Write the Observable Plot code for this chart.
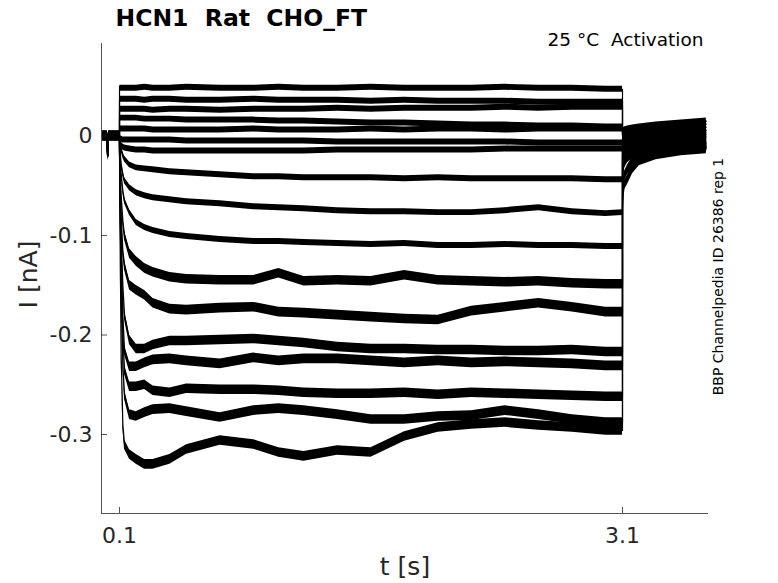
<!DOCTYPE html>
<html>
<head>
<meta charset="utf-8">
<script src="https://cdn.jsdelivr.net/npm/d3@7"></script>
<script src="https://cdn.jsdelivr.net/npm/@observablehq/plot@0.6"></script>
<style>
  html, body { margin: 0; padding: 0; background: #fff; }
</style>
</head>
<body>
<div id="chart"></div>
<script>
// ---- text ----
const titleText = "HCN1  Rat  CHO_FT";
const subtitleText = "25 °C  Activation";
const sideText = "BBP Channelpedia ID 26386 rep 1";
const xLabel = "t [s]";
const yLabel = "I [nA]";

// ---- axes ----
const xTicks = [0.1, 3.1];
const yTicks = [0, -0.1, -0.2, -0.3];
const xDomain = [-0.0074, 3.613];
const yDomain = [-0.3794, 0.093];

// ---- sample times (s) ----
const preT = [0, 0.027, 0.029, 0.032, 0.035, 0.0999];
const stepT = [0.1, 0.105, 0.11, 0.12, 0.13, 0.16, 0.2, 0.25, 0.3, 0.4, 0.5, 0.7, 0.9, 1.05, 1.2, 1.4, 1.6, 1.8, 2.0, 2.2, 2.4, 2.6, 2.8, 3.0, 3.1];
const tailT = [3.1001, 3.102, 3.105, 3.11, 3.13, 3.16, 3.2, 3.3, 3.45, 3.6];

// ---- holding baseline before the step (nA) ----
const preI = [0, 0, -0.02, -0.004, 0, 0];

// ---- currents during the step (nA) ----
const t1Step = [0.047, 0.048, 0.048, 0.048, 0.048, 0.048, 0.048, 0.049, 0.048, 0.048, 0.049, 0.048, 0.048, 0.049, 0.048, 0.048, 0.049, 0.048, 0.048, 0.048, 0.049, 0.048, 0.048, 0.047, 0.047];
const t2Step = [0.036, 0.037, 0.037, 0.037, 0.037, 0.037, 0.037, 0.036, 0.037, 0.037, 0.036, 0.036, 0.037, 0.036, 0.036, 0.036, 0.035, 0.036, 0.035, 0.035, 0.035, 0.034, 0.034, 0.034, 0.034];
const t3Step = [0.026, 0.027, 0.027, 0.027, 0.027, 0.027, 0.027, 0.027, 0.026, 0.027, 0.027, 0.026, 0.027, 0.027, 0.027, 0.028, 0.027, 0.028, 0.028, 0.028, 0.029, 0.028, 0.029, 0.029, 0.029];
const t4Step = [0.018, 0.018, 0.018, 0.018, 0.018, 0.018, 0.018, 0.017, 0.017, 0.017, 0.016, 0.016, 0.016, 0.015, 0.015, 0.014, 0.013, 0.013, 0.012, 0.011, 0.011, 0.010, 0.010, 0.009, 0.009];
const t5Step = [0.007, 0.007, 0.007, 0.007, 0.007, 0.007, 0.007, 0.007, 0.006, 0.006, 0.006, 0.006, 0.007, 0.006, 0.006, 0.006, 0.007, 0.006, 0.007, 0.007, 0.006, 0.007, 0.007, 0.007, 0.007];
const t6Step = [-0.002, -0.003, -0.003, -0.004, -0.004, -0.004, -0.004, -0.004, -0.004, -0.004, -0.005, -0.005, -0.005, -0.005, -0.005, -0.006, -0.006, -0.006, -0.006, -0.006, -0.006, -0.007, -0.007, -0.007, -0.007];
const t7Step = [-0.004, -0.007, -0.009, -0.011, -0.012, -0.013, -0.014, -0.014, -0.015, -0.015, -0.015, -0.015, -0.015, -0.015, -0.015, -0.014, -0.014, -0.014, -0.014, -0.014, -0.013, -0.013, -0.013, -0.013, -0.013];
const m1Step = [-0.002, -0.008, -0.013, -0.019, -0.023, -0.029, -0.032, -0.033, -0.034, -0.036, -0.037, -0.039, -0.041, -0.041, -0.042, -0.042, -0.042, -0.043, -0.042, -0.043, -0.043, -0.043, -0.043, -0.044, -0.044];
const m2Step = [-0.005, -0.018, -0.028, -0.038, -0.045, -0.052, -0.057, -0.060, -0.062, -0.064, -0.066, -0.068, -0.071, -0.072, -0.073, -0.075, -0.076, -0.076, -0.077, -0.077, -0.075, -0.072, -0.076, -0.078, -0.077];
const m3Step = [-0.008, -0.025, -0.038, -0.055, -0.065, -0.077, -0.087, -0.092, -0.095, -0.099, -0.101, -0.104, -0.106, -0.106, -0.107, -0.108, -0.109, -0.108, -0.110, -0.110, -0.109, -0.110, -0.110, -0.111, -0.111];
const aStep = [-0.010, -0.040, -0.060, -0.085, -0.100, -0.118, -0.126, -0.133, -0.137, -0.142, -0.144, -0.145, -0.145, -0.138, -0.146, -0.145, -0.146, -0.140, -0.145, -0.146, -0.147, -0.146, -0.148, -0.149, -0.149];
const bStep = [-0.012, -0.050, -0.080, -0.115, -0.130, -0.150, -0.155, -0.160, -0.168, -0.174, -0.175, -0.173, -0.172, -0.177, -0.178, -0.180, -0.182, -0.184, -0.185, -0.176, -0.172, -0.168, -0.172, -0.177, -0.177];
const cStep = [-0.015, -0.060, -0.100, -0.150, -0.180, -0.205, -0.214, -0.214, -0.210, -0.206, -0.206, -0.205, -0.204, -0.206, -0.208, -0.212, -0.214, -0.214, -0.215, -0.215, -0.216, -0.216, -0.215, -0.217, -0.217];
const dStep = [-0.015, -0.070, -0.120, -0.180, -0.215, -0.232, -0.232, -0.228, -0.225, -0.224, -0.226, -0.229, -0.223, -0.226, -0.224, -0.224, -0.226, -0.228, -0.226, -0.228, -0.227, -0.228, -0.229, -0.231, -0.231];
const eStep = [-0.015, -0.080, -0.140, -0.200, -0.235, -0.252, -0.252, -0.250, -0.256, -0.258, -0.254, -0.255, -0.255, -0.256, -0.258, -0.259, -0.259, -0.258, -0.260, -0.258, -0.259, -0.260, -0.261, -0.262, -0.262];
const fStep = [-0.015, -0.090, -0.160, -0.230, -0.260, -0.280, -0.282, -0.278, -0.275, -0.274, -0.277, -0.283, -0.276, -0.274, -0.276, -0.280, -0.285, -0.285, -0.282, -0.281, -0.276, -0.280, -0.285, -0.288, -0.288];
const gStep = [-0.020, -0.130, -0.220, -0.290, -0.310, -0.320, -0.325, -0.330, -0.330, -0.325, -0.315, -0.306, -0.310, -0.318, -0.322, -0.316, -0.318, -0.302, -0.293, -0.290, -0.288, -0.291, -0.293, -0.296, -0.296];

// ---- tail currents after the step (nA) ----
const t1Tail = [0.003, 0.004, 0.005, 0.006, 0.007, 0.008, 0.009, 0.011, 0.013, 0.015];
const t2Tail = [0.002, 0.003, 0.004, 0.005, 0.006, 0.007, 0.007, 0.009, 0.011, 0.012];
const t3Tail = [0.001, 0.002, 0.003, 0.004, 0.004, 0.005, 0.005, 0.007, 0.008, 0.009];
const t4Tail = [0.000, 0.001, 0.002, 0.002, 0.003, 0.003, 0.004, 0.005, 0.005, 0.006];
const t5Tail = [-0.001, 0.000, 0.001, 0.001, 0.002, 0.002, 0.002, 0.003, 0.003, 0.004];
const t6Tail = [-0.002, -0.001, 0.000, 0.000, 0.000, 0.001, 0.001, 0.001, 0.002, 0.002];
const t7Tail = [-0.004, -0.003, -0.002, -0.002, -0.001, -0.001, 0.000, 0.000, 0.000, 0.000];
const m1Tail = [-0.006, -0.005, -0.005, -0.004, -0.004, -0.003, -0.003, -0.002, -0.002, -0.002];
const m2Tail = [-0.008, -0.007, -0.007, -0.006, -0.005, -0.005, -0.004, -0.004, -0.004, -0.004];
const m3Tail = [-0.010, -0.009, -0.009, -0.008, -0.007, -0.007, -0.006, -0.006, -0.006, -0.006];
const aTail = [-0.012, -0.011, -0.011, -0.010, -0.009, -0.008, -0.008, -0.007, -0.007, -0.007];
const bTail = [-0.014, -0.013, -0.012, -0.012, -0.011, -0.010, -0.009, -0.008, -0.008, -0.008];
const cTail = [-0.020, -0.018, -0.016, -0.015, -0.013, -0.012, -0.011, -0.010, -0.009, -0.009];
const dTail = [-0.028, -0.025, -0.022, -0.019, -0.016, -0.014, -0.012, -0.011, -0.010, -0.010];
const eTail = [-0.045, -0.040, -0.034, -0.028, -0.022, -0.018, -0.015, -0.013, -0.012, -0.011];
const fTail = [-0.060, -0.055, -0.048, -0.041, -0.034, -0.026, -0.020, -0.016, -0.014, -0.012];
const gTail = [-0.072, -0.066, -0.058, -0.050, -0.044, -0.033, -0.025, -0.019, -0.015, -0.013];

// ---- recording noise half-width (nA) ----
const noiseUpper = 0.003;
const noiseLower = 0.0048;

const traces = [
  ["t1", t1Step, t1Tail, noiseUpper], ["t2", t2Step, t2Tail, noiseUpper],
  ["t3", t3Step, t3Tail, noiseUpper], ["t4", t4Step, t4Tail, noiseUpper],
  ["t5", t5Step, t5Tail, noiseUpper], ["t6", t6Step, t6Tail, noiseUpper],
  ["t7", t7Step, t7Tail, noiseUpper], ["m1", m1Step, m1Tail, noiseUpper],
  ["m2", m2Step, m2Tail, noiseUpper], ["m3", m3Step, m3Tail, noiseUpper],
  ["a", aStep, aTail, noiseLower], ["b", bStep, bTail, noiseLower],
  ["c", cStep, cTail, noiseLower], ["d", dStep, dTail, noiseLower],
  ["e", eStep, eTail, noiseLower], ["f", fStep, fTail, noiseLower],
  ["g", gStep, gTail, noiseLower]
];

const rows = [];
for (const [name, step, tail, noise] of traces) {
  preT.forEach((t, k) => rows.push({trace: name, t, i: preI[k], noise}));
  stepT.forEach((t, k) => rows.push({trace: name, t, i: step[k], noise}));
  tailT.forEach((t, k) => rows.push({trace: name, t, i: tail[k], noise}));
}

const W = 778, H = 583;
const mL = 101, mR = 70, mT = 43, mB = 70;
const frameW = W - mL - mR, frameH = H - mT - mB;
const axisColor = "#262626";
const tickLen = 6;

const chart = Plot.plot({
  width: W, height: H,
  marginLeft: mL, marginRight: mR, marginTop: mT, marginBottom: mB,
  x: {domain: xDomain},
  y: {domain: yDomain},
  style: {fontFamily: "DejaVu Sans", background: "white", color: axisColor, overflow: "visible"},
  marks: [
    Plot.areaY(rows, {x: "t", y1: d => d.i - d.noise, y2: d => d.i + d.noise, z: "trace", fill: "black", curve: "linear"}),
    Plot.line(rows, {x: "t", y: "i", z: "trace", stroke: "black", strokeWidth: 1.2}),
    Plot.ruleX([xDomain[0]], {stroke: axisColor, strokeWidth: 0.8}),
    Plot.ruleY([yDomain[0]], {stroke: axisColor, strokeWidth: 0.8}),
    Plot.tickX(xTicks, {x: d => d, insetTop: frameH - tickLen, stroke: axisColor, strokeWidth: 0.8}),
    Plot.tickY(yTicks, {y: d => d, insetRight: frameW - tickLen, stroke: axisColor, strokeWidth: 0.8}),
    Plot.axisX(xTicks, {tickSize: 0, tickPadding: 14, fontSize: 22, fill: axisColor, label: null, tickFormat: d => String(d)}),
    Plot.axisY(yTicks, {tickSize: 0, tickPadding: 9, fontSize: 22, fill: axisColor, label: null, tickFormat: d => String(d)}),
    Plot.text([xLabel], {frameAnchor: "bottom", text: d => d, dy: 53, textAnchor: "middle", lineAnchor: "middle", fontSize: 25, fill: axisColor}),
    Plot.text([yLabel], {frameAnchor: "left", text: d => d, dx: -73, dy: -4, rotate: -90, textAnchor: "middle", lineAnchor: "middle", fontSize: 25, fill: axisColor}),
    Plot.text([titleText], {frameAnchor: "top-left", text: d => d, dx: 14, dy: -25, textAnchor: "start", lineAnchor: "middle", fontSize: 23.5, fontWeight: "bold", fill: "black"}),
    Plot.text([subtitleText], {frameAnchor: "top-right", text: d => d, dx: -5, dy: -3, textAnchor: "end", lineAnchor: "middle", fontSize: 18.5, fill: "black"}),
    Plot.text([sideText], {frameAnchor: "right", text: d => d, dx: 10, dy: -2, rotate: -90, textAnchor: "middle", lineAnchor: "middle", fontSize: 14, fill: "black"})
  ]
});
document.getElementById("chart").appendChild(chart);
</script>
</body>
</html>
